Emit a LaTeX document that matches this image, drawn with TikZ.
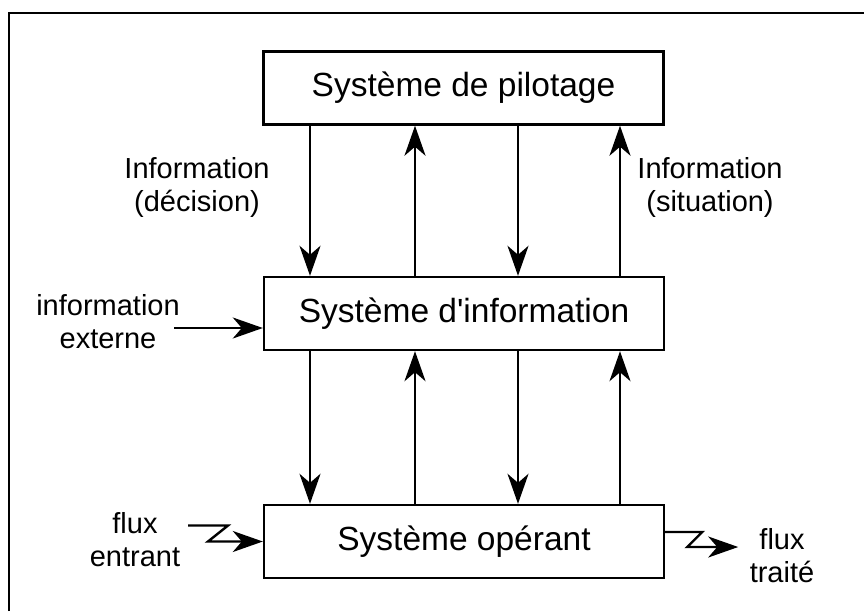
\documentclass[tikz,border=0pt]{standalone}
\usepackage{fontspec}
\setmainfont{Liberation Sans}
\usetikzlibrary{arrows.meta}
\tikzset{
  sys/.style={draw, line width=2.4pt, minimum width=400pt, minimum height=73pt,
    font=\fontsize{33.5}{40}\selectfont},
  lab/.style={align=center, inner sep=0pt, font=\fontsize{29}{33}\selectfont},
  fl/.style={line width=2.4pt, -{Stealth[length=30pt,width=21pt,inset=9pt]}}
}
\begin{document}
\begin{tikzpicture}[x=1pt,y=-1pt]
    \useasboundingbox (0,0) rectangle (864,611);
    \draw[line width=2.4pt] (9,611) -- (9,13) -- (864,13);

    \node[sys] (pil) at (463.5,88) {Système de pilotage};
    \node[sys] (inf) at (464,313.5) {Système d\textquotesingle information};
    \node[sys] (ope) at (464,541.5) {Système opérant};

    \foreach \x in {310,518} {
    \coordinate (a) at (\x,0);
    \draw[fl] (pil.south -| a) -- (inf.north -| a);
    \draw[fl] (inf.south -| a) -- (ope.north -| a);
    }
    \foreach \x in {415,620} {
    \coordinate (a) at (\x,0);
    \draw[fl] (inf.north -| a) -- (pil.south -| a);
    \draw[fl] (ope.north -| a) -- (inf.south -| a);
    }

    \node[lab] (dec) at (197,187) {Information\\(décision)};
    \node[lab] (sit) at (710,187) {Information\\(situation)};
    \node[lab] (ext) at (108,322) {information\\externe};
    \node[lab] (ent) at (135,540) {flux\\entrant};
    \node[lab] (tra) at (782,556) {flux\\traité};

    \coordinate (e0) at (174,328);
    \draw[fl] (e0) -- (e0 -| inf.west);
    \coordinate (z0) at (188,525.5);
    \draw[fl] (z0) -- ++(40,0) -- ++(-20,16) -- (ope.west);
    \draw[fl] ([yshift=9.5pt]ope.east) -- ++(37,0) -- ++(-15,15) -- ++(51,0);
\end{tikzpicture}
\end{document}
